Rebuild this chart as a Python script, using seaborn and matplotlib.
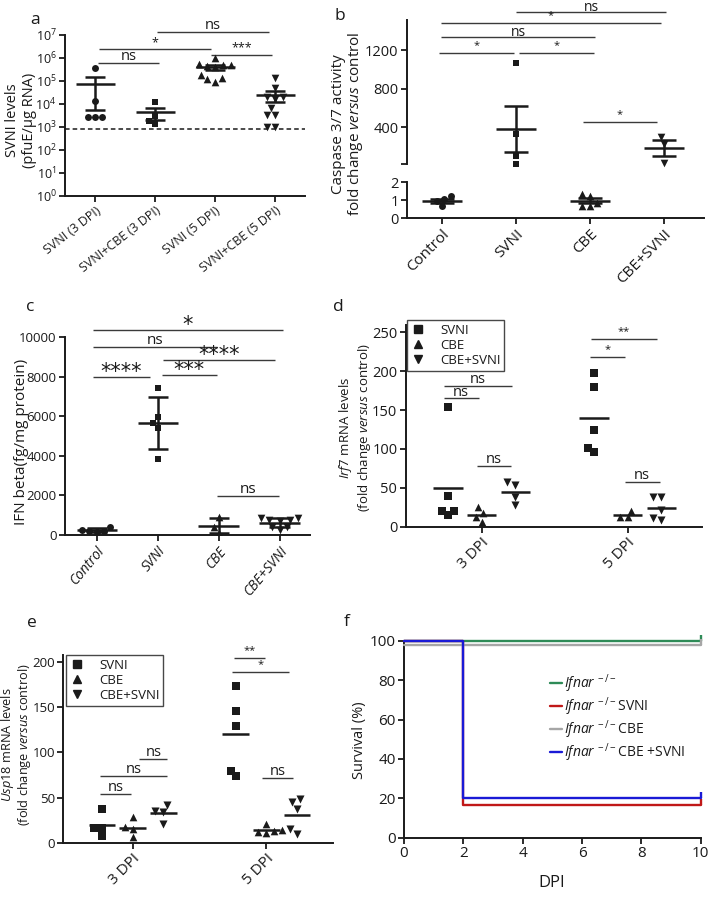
import numpy as np
import pandas as pd
import matplotlib
matplotlib.use('Agg')
import matplotlib.pyplot as plt
import seaborn as sns
from matplotlib.lines import Line2D
from matplotlib.ticker import NullLocator
import warnings
warnings.filterwarnings('ignore')

# ---------------- data ----------------
a_groups = ['SVNI (3 DPI)', 'SVNI+CBE (3 DPI)', 'SVNI (5 DPI)', 'SVNI+CBE (5 DPI)']
a_svni_3 = [355000, 13500, 2600, 2600, 2600]
a_svni_cbe_3 = [11700, 3100, 1300, 1800]
a_svni_5 = [980000, 560000, 520000, 500000, 450000, 400000, 180000, 130000, 117000, 93000]
a_svni_cbe_5 = [132000, 48000, 20000, 20000, 16000, 6500, 3300, 3300, 1000, 1000]
a_detection_limit = 800
a_exponents = [0, 1, 2, 3, 4, 5, 6, 7]

b_groups = ['Control', 'SVNI', 'CBE', 'CBE+SVNI']
b_control = [1.2, 1.05, 0.65, 0.95]
b_svni = [1068, 327, 102, 16]
b_cbe = [1.24, 1.33, 0.69, 0.69, 0.85]
b_cbe_svni = [300, 228, 25]

c_groups = ['Control', 'SVNI', 'CBE', 'CBE+SVNI']
c_control = [260, 180, 170, 210, 400]
c_svni = [7450, 5660, 5970, 5410, 3840]
c_cbe = [900, 420, 120]
c_cbe_svni = [840, 760, 840, 780, 420, 250, 420, 700]

dpi_labels = ['3 DPI', '5 DPI']
treatments = ['SVNI', 'CBE', 'CBE+SVNI']
d_svni_3 = [154, 39.5, 20.6, 20.6, 15]
d_cbe_3 = [25.7, 18, 12.9, 5.6]
d_cbe_svni_3 = [57.9, 53.6, 38.6, 27.9]
d_svni_5 = [198, 180, 124, 101.6, 96.5]
d_cbe_5 = [20.6, 12, 12.9]
d_cbe_svni_5 = [38.6, 38.6, 21.4, 8.6, 10.7]

e_svni_3 = [37, 16, 16, 7.8]
e_cbe_3 = [28.1, 17.8, 14.8, 5.9]
e_cbe_svni_3 = [41.9, 35.2, 33.7, 20.7]
e_svni_5 = [174, 145.6, 129.6, 80, 74]
e_cbe_5 = [20.7, 13, 10.4, 14, 12]
e_cbe_svni_5 = [44.8, 37.4, 48.5, 9.6, 15.2]

f_days = [0, 2, 10]
f_ifnar = [100, 100, 100]
f_ifnar_svni = [100, 16.7, 16.7]
f_ifnar_cbe = [98, 98, 98]
f_ifnar_cbe_svni = [100, 20, 20]
f_labels = [r'$\mathit{Ifnar}^{\,-/-}$', r'$\mathit{Ifnar}^{\,-/-}$SVNI',
            r'$\mathit{Ifnar}^{\,-/-}$CBE', r'$\mathit{Ifnar}^{\,-/-}$CBE +SVNI']
f_colors = ['#2e8b57', '#c01818', '#a6a6a6', '#1a1ad6']

# ---------------- style ----------------
sns.set_theme(style='ticks')
plt.rcParams['font.family'] = ['Open Sans', 'DejaVu Sans']
plt.rcParams['mathtext.fontset'] = 'custom'
plt.rcParams['mathtext.rm'] = 'Open Sans'
plt.rcParams['mathtext.it'] = 'Open Sans:italic'
plt.rcParams['mathtext.bf'] = 'Open Sans:bold'
plt.rcParams['text.color'] = 'k'

W, H = 708, 906
fig = plt.figure(figsize=(W / 100, H / 100), dpi=100)


def add_ax(l, t, r, b):
    return fig.add_axes([l / W, 1 - b / H, (r - l) / W, (b - t) / H])


def style_ax(ax, labelsize=10.5):
    for s in ['top', 'right']:
        ax.spines[s].set_visible(False)
    for s in ['left', 'bottom']:
        ax.spines[s].set_linewidth(1.4)
        ax.spines[s].set_color('k')
    ax.tick_params(direction='out', width=1.3, length=4, color='k',
                   labelsize=labelsize, pad=2, labelcolor='k')
    ax.set_xlabel('')
    ax.set_ylabel('')


def long_df(groups, lists):
    return pd.DataFrame({'grp': np.repeat(groups, [len(l) for l in lists]),
                         'val': np.concatenate([np.asarray(l, float) for l in lists])})


def swarm(ax, df, order, markers, sizes, clip=True):
    for g, m, s in zip(order, markers, sizes):
        sub = df[df.grp == g]
        if len(sub) == 0:
            continue
        sns.swarmplot(data=sub, x='grp', y='val', order=order, color='k', marker=m,
                      size=s, linewidth=0, ax=ax, clip_on=clip, zorder=3)


def mean_err(ax, df, order, kind, mw, cw, lw=1.8):
    st = df.groupby('grp')['val'].agg(['mean', 'std', 'count']).reindex(order)
    for i, (g, r) in enumerate(st.iterrows()):
        e = r['std'] / np.sqrt(r['count']) if kind == 'se' else r['std']
        m = r['mean']
        ax.hlines(m, i - mw / 2, i + mw / 2, color='k', lw=lw, zorder=4)
        ax.vlines(i, m - e, m + e, color='k', lw=lw, zorder=4)
        ax.hlines([m - e, m + e], i - cw / 2, i + cw / 2, color='k', lw=lw, zorder=4)


def sig(ax, bars, fs_ns=10, fs_star=9, star_off=0.0, color='#3a3a3a', star_font=None, ns_off=2):
    for x1, x2, y, txt in bars:
        ax.plot([x1, x2], [y, y], color=color, lw=1.0, clip_on=False, solid_capstyle='butt')
        if txt == 'ns':
            ax.annotate(txt, xy=((x1 + x2) / 2, y), xytext=(0, ns_off), textcoords='offset points',
                        ha='center', va='baseline', fontsize=fs_ns, annotation_clip=False)
        else:
            kw = {}
            if star_font:
                kw['family'] = star_font
            ax.annotate(txt, xy=((x1 + x2) / 2, y), xytext=(0, star_off), textcoords='offset points',
                        ha='center', va='bottom', fontsize=fs_star, annotation_clip=False, **kw)


def letter(x, y, s):
    fig.text(x / W, 1 - y / H, s, fontsize=12.5, ha='center', va='center')


def ylabel(x, y, s, fs=11, ls=1.15):
    fig.text(x / W, 1 - y / H, s, rotation=90, ha='center', va='center', fontsize=fs,
             linespacing=ls)

# ---------------- panel a ----------------
axa = add_ax(65, 35, 305, 196)
axa.set_yscale('log')
dfa = long_df(a_groups, [a_svni_3, a_svni_cbe_3, a_svni_5, a_svni_cbe_5])
swarm(axa, dfa, a_groups, ['o', 's', '^', 'v'], [5, 5, 5.5, 5.5])
axa.axhline(a_detection_limit, color='k', ls=(0, (3, 2)), lw=1.1, zorder=2)
mean_err(axa, dfa, a_groups, 'se', mw=0.65, cw=0.33)
axa.set_xlim(-0.5, 3.5)
axa.set_ylim(1, 1e7)
style_ax(axa, 9)
axa.yaxis.set_minor_locator(NullLocator())
axa.set_yticks([10.0 ** e for e in a_exponents])
axa.set_yticklabels([f'$10^{{{e}}}$' for e in a_exponents])
axa.set_xticks(range(4))
axa.set_xticklabels(a_groups, rotation=38, ha='right', rotation_mode='anchor', fontsize=9)
sig(axa, [(0.05, 1.07, 10 ** 5.80, 'ns'), (0.07, 1.93, 10 ** 6.39, '*'),
          (1.93, 2.95, 10 ** 6.14, '***'), (1.03, 2.9, 10 ** 7.14, 'ns')], fs_ns=10.5, fs_star=9)
ylabel(21, 120, 'SVNI levels\n(pfuE/μg RNA)', fs=10.5, ls=1.25)
letter(35, 20, 'a')

# ---------------- panel b ----------------
axb1 = add_ax(407, 20, 704, 164)
axb2 = add_ax(407, 182, 704, 218)
dfb = long_df(b_groups, [b_control, b_svni, b_cbe, b_cbe_svni])
mk_b = ['o', 's', '^', 'v']
sz_b = [5, 5, 5.5, 5.5]
swarm(axb1, dfb[dfb.val > 2], b_groups, mk_b, sz_b, clip=False)
swarm(axb2, dfb[dfb.val <= 2], b_groups, mk_b, sz_b)
for ax in (axb1, axb2):
    mean_err(ax, dfb, b_groups, 'se', mw=0.54, cw=0.33)
    ax.set_xlim(-0.47, 3.54)
    style_ax(ax, 10.5)
axb1.set_ylim(16, 1512)
axb1.set_yticks([16, 400, 800, 1200])
axb1.set_yticklabels(['', '400', '800', '1200'])
axb1.spines['bottom'].set_visible(False)
axb1.set_xticks([])
axb2.set_ylim(0, 2)
axb2.set_yticks([0, 1, 2])
axb2.set_xticks(range(4))
axb2.set_xticklabels(b_groups, rotation=45, ha='right', rotation_mode='anchor', fontsize=11)
sig(axb1, [(-0.04, 0.97, 1172, '*'), (1.04, 2.05, 1172, '*'), (-0.01, 2.07, 1338, 'ns'),
           (-0.01, 2.96, 1484, '*'), (1.0, 3.03, 1600, 'ns'), (1.9, 2.9, 455, '*')],
    fs_ns=10, fs_star=8, star_off=1.5, ns_off=0.5)
ylabel(348, 124, 'Caspase 3/7 activity\nfold change $\\mathit{versus}$ control', fs=11, ls=1.05)
letter(340, 16, 'b')

# ---------------- panel c ----------------
axc = add_ax(65, 337.3, 310, 535)
dfc = long_df(c_groups, [c_control, c_svni, c_cbe, c_cbe_svni])
swarm(axc, dfc, c_groups, ['o', 's', '^', 'v'], [5, 5, 5.5, 5.5])
mean_err(axc, dfc, c_groups, 'sd', mw=0.66, cw=0.33)
axc.set_xlim(-0.52, 3.5)
axc.set_ylim(0, 10000)
style_ax(axc, 9.5)
axc.set_yticks([0, 2000, 4000, 6000, 8000, 10000])
axc.set_xticks(range(4))
axc.set_xticklabels(c_groups, rotation=50, ha='right', rotation_mode='anchor', fontsize=10,
                    style='italic')
sig(axc, [(-0.06, 3.05, 10369, '*'), (-0.06, 1.97, 9525, 'ns'), (1.09, 2.92, 8852, '****'),
          (-0.06, 0.87, 7977, '****'), (1.07, 1.97, 8093, '***'), (1.97, 2.99, 1988, 'ns')],
    fs_ns=11, fs_star=15, star_off=-3.5, star_font='DejaVu Sans')
ylabel(22, 442, 'IFN beta(fg/mg protein)', fs=11)
letter(30, 307, 'c')


# ---------------- panels d / e ----------------
def treat_df(lists):
    rows = []
    for di, dl in enumerate(dpi_labels):
        for ti, tr in enumerate(treatments):
            for v in lists[di][ti]:
                rows.append((di, ti, tr, v))
    df = pd.DataFrame(rows, columns=['dpi', 'ti', 'treat', 'val'])
    df['pos'] = df['dpi'] + (df['ti'] - 1) * 0.23
    return df


def treat_panel(ax, df, mw=0.2):
    for tr, m, s in zip(treatments, ['s', '^', 'v'], [5.2, 5.5, 5.8]):
        sub = df[df.treat == tr]
        sns.swarmplot(data=sub, x='pos', y='val', native_scale=True, orient='x', color='k',
                      marker=m, size=s, linewidth=0, ax=ax, zorder=3)
    st = df.groupby('pos')['val'].mean()
    for p, m in st.items():
        ax.hlines(m, p - mw / 2, p + mw / 2, color='k', lw=1.8, zorder=4)


def treat_legend(ax, x, y):
    hs = [Line2D([], [], marker=m, ls='none', color='k', markersize=s)
          for m, s in zip(['s', '^', 'v'], [5.5, 5.5, 6])]
    lg = ax.legend(hs, treatments, loc='upper left', bbox_to_anchor=(x / W, 1 - y / H),
                   bbox_transform=fig.transFigure, borderaxespad=0, fontsize=9.5,
                   frameon=True, fancybox=False, handlelength=1.0, handletextpad=1.2,
                   labelspacing=0.15, borderpad=0.3)
    lg.get_frame().set_edgecolor('k')
    lg.get_frame().set_linewidth(1.0)
    lg.set_zorder(10)


axd = add_ax(405.7, 324.5, 702, 526.7)
dfd = treat_df([[d_svni_3, d_cbe_3, d_cbe_svni_3], [d_svni_5, d_cbe_5, d_cbe_svni_5]])
treat_panel(axd, dfd)
axd.set_xlim(-0.52, 1.51)
axd.set_ylim(0, 260)
style_ax(axd, 10.5)
axd.set_yticks([0, 50, 100, 150, 200, 250])
axd.set_xticks([0, 1])
axd.set_xticklabels(dpi_labels, rotation=45, ha='right', rotation_mode='anchor', fontsize=11)
sig(axd, [(-0.26, 0.21, 181, 'ns'), (-0.26, -0.02, 165, 'ns'), (-0.03, 0.2, 78, 'ns'),
          (0.75, 1.2, 241, '**'), (0.74, 0.98, 218, '*'), (0.98, 1.22, 57.9, 'ns')],
    fs_ns=10.5, fs_star=8, star_off=1.5)
treat_legend(axd, 407, 320)
ylabel(355, 428, '$\\mathit{Irf7}$ mRNA levels\n(fold change $\\mathit{versus}$ control)',
       fs=9.5, ls=1.2)
letter(338, 307, 'd')

axe = add_ax(63.3, 655, 333, 842.7)
dfe = treat_df([[e_svni_3, e_cbe_3, e_cbe_svni_3], [e_svni_5, e_cbe_5, e_cbe_svni_5]])
treat_panel(axe, dfe)
axe.set_xlim(-0.52, 1.5)
axe.set_ylim(0, 208)
style_ax(axe, 9.5)
axe.set_yticks([0, 50, 100, 150, 200])
axe.set_xticks([0, 1])
axe.set_xticklabels(dpi_labels, rotation=45, ha='right', rotation_mode='anchor', fontsize=11)
sig(axe, [(0.05, 0.26, 93, 'ns'), (-0.245, 0.26, 74.4, 'ns'), (-0.245, -0.01, 53.8, 'ns'),
          (0.755, 0.99, 204.9, '**'), (0.74, 1.17, 188.9, '*'), (0.97, 1.2, 72.2, 'ns')],
    fs_ns=10.5, fs_star=8, star_off=1.5)
treat_legend(axe, 66, 655)
ylabel(16, 745, '$\\mathit{Usp18}$ mRNA levels\n(fold change $\\mathit{versus}$ control)',
       fs=9.2, ls=1.0)
letter(32, 623, 'e')

# ---------------- panel f ----------------
axf = add_ax(404, 640.7, 700.7, 837.7)
for ys, col in zip([f_ifnar, f_ifnar_svni, f_ifnar_cbe, f_ifnar_cbe_svni], f_colors):
    sns.lineplot(x=f_days, y=ys, drawstyle='steps-post', color=col, lw=1.7, ax=axf,
                 marker=2, markevery=[len(f_days) - 1], markersize=4, mew=1.7, mec=col,
                 clip_on=False, zorder=3)
axf.set_xlim(0, 10)
axf.set_ylim(0, 100)
style_ax(axf, 11)
axf.set_xticks([0, 2, 4, 6, 8, 10])
axf.set_yticks([0, 20, 40, 60, 80, 100])
hs = [Line2D([], [], color=c, lw=1.7) for c in f_colors]
lgf = axf.legend(hs, f_labels, loc='upper left', bbox_to_anchor=(544 / W, 1 - 667 / H),
                 bbox_transform=fig.transFigure, borderaxespad=0, frameon=False, fontsize=10,
                 handlelength=0.9, handletextpad=0.15, labelspacing=0.02)
ylabel(360, 740, 'Survival (%)', fs=10.5)
fig.text(552 / W, 1 - 883 / H, 'DPI', ha='center', va='center', fontsize=12)
letter(347, 622, 'f')

fig.savefig('out.png', dpi=100)
